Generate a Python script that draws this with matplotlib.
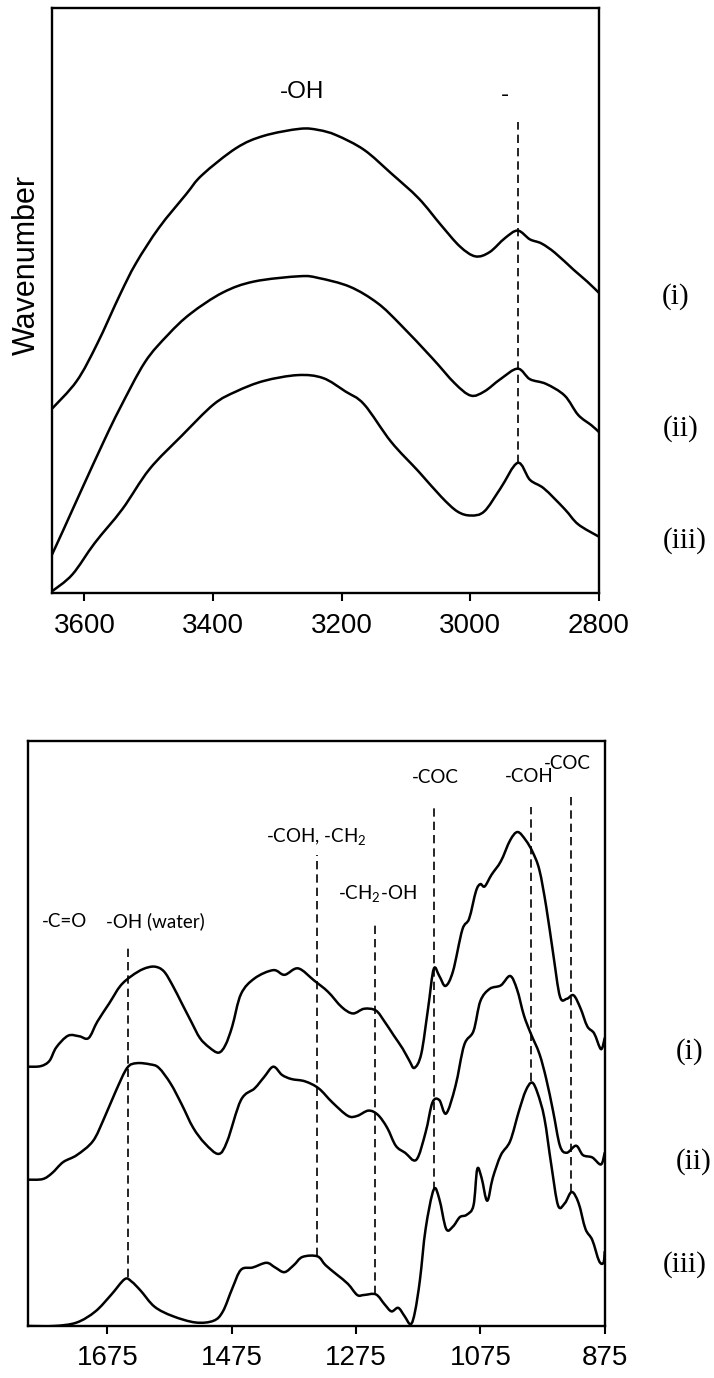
import matplotlib
matplotlib.use("Agg")
import matplotlib.pyplot as plt
from matplotlib.path import Path
from matplotlib.patches import PathPatch
import numpy as np

# ---------------- data: top panel (O-H / C-H region) ----------------
top_wn_i = [3651, 3612, 3580, 3545, 3520, 3484, 3442, 3417, 3364, 3321, 3265, 3236, 3208, 3165,
            3123, 3080, 3045, 3016, 2992, 2970, 2946, 2926, 2907, 2889, 2868, 2839, 2818, 2800]
top_i = [31.5, 36.3, 42.7, 51.0, 56.4, 62.5, 68.2, 71.5, 76.1, 78.2, 79.4, 79.2, 78.3, 75.8,
         71.8, 67.5, 62.9, 59.3, 57.6, 58.3, 60.7, 62.0, 60.5, 59.8, 58.2, 55.3, 53.3, 51.4]

top_wn_ii = [3651, 3633, 3605, 3569, 3545, 3506, 3470, 3435, 3385, 3336, 3265, 3236, 3187, 3144,
             3109, 3059, 3024, 2999, 2978, 2953, 2926, 2907, 2882, 2853, 2832, 2811, 2800]
top_ii = [6.5, 10.8, 17.6, 26.2, 31.6, 39.5, 44.2, 47.8, 51.4, 53.3, 54.2, 53.9, 52.4, 49.6,
          46.0, 40.2, 35.9, 33.8, 34.5, 36.6, 38.4, 36.6, 35.8, 33.8, 30.5, 28.7, 27.6]

top_wn_iii = [3651, 3619, 3584, 3541, 3499, 3449, 3399, 3364, 3321, 3268, 3229, 3194, 3165, 3123,
              3080, 3045, 3020, 2999, 2978, 2953, 2926, 2907, 2885, 2853, 2832, 2800]
top_iii = [0.3, 3.2, 8.6, 14.4, 21.2, 26.9, 32.3, 34.5, 36.3, 37.3, 36.8, 34.5, 32.3, 25.9,
           20.8, 16.5, 14.0, 13.3, 14.0, 17.9, 22.3, 19.4, 17.9, 14.4, 11.8, 9.7]

top_ticks = [3600, 3400, 3200, 3000, 2800]
top_labels = ["-OH", "-"]
top_label_wn = [3261, 2946]
top_label_y = [84.7, 84.2]
top_dash_wn = [2926]
top_dash_lo = [22.3]
top_dash_hi = [80.6]

# ---------------- data: bottom panel (fingerprint region) ----------------
bot_wn_i = [1802, 1782, 1768, 1757, 1738, 1720, 1705, 1691, 1672, 1654, 1636, 1617, 1599, 1584,
            1570, 1555, 1540, 1526, 1511, 1496, 1485, 1474, 1460, 1438, 1408, 1390, 1368, 1342,
            1320, 1298, 1280, 1262, 1243, 1229, 1214, 1200, 1189, 1181, 1170, 1159, 1150, 1141,
            1131, 1119, 1104, 1093, 1082, 1075, 1068, 1057, 1042, 1027, 1015, 1002, 991, 980,
            969, 958, 947, 936, 925, 914, 903, 892, 881, 875]
bot_i = [44.3, 44.4, 45.3, 47.6, 49.6, 49.5, 49.2, 52.0, 55.1, 58.1, 59.8, 61.0, 61.4, 60.6,
         58.2, 55.1, 52.0, 49.2, 47.6, 46.7, 48.0, 51.2, 56.7, 59.4, 60.8, 60.0, 61.1, 59.0,
         57.1, 54.5, 53.4, 54.2, 53.9, 52.0, 49.6, 47.4, 45.3, 44.1, 46.5, 54.3, 61.0, 59.8,
         58.1, 60.6, 67.7, 69.6, 74.3, 75.5, 75.1, 77.1, 79.4, 83.0, 84.4, 83.0, 81.0, 77.9,
         71.6, 63.7, 56.3, 55.9, 56.5, 54.3, 51.2, 50.0, 47.3, 49.2]

bot_wn_ii = [1802, 1779, 1764, 1746, 1724, 1698, 1680, 1661, 1643, 1628, 1606, 1592, 1573, 1555,
             1537, 1518, 1496, 1482, 1460, 1438, 1423, 1408, 1394, 1379, 1357, 1335, 1313, 1288,
             1273, 1255, 1240, 1225, 1211, 1196, 1178, 1163, 1152, 1141, 1130, 1115, 1101, 1086,
             1075, 1060, 1042, 1027, 1016, 1005, 994, 980, 969, 958, 947, 936, 921, 910, 895,
             881, 875]
bot_ii = [25.0, 25.1, 26.1, 28.0, 29.2, 31.6, 35.5, 40.2, 44.1, 44.9, 44.7, 44.1, 41.4, 37.8,
          33.9, 31.2, 29.4, 31.6, 38.6, 40.6, 42.5, 44.3, 42.9, 42.2, 41.8, 40.6, 38.2, 35.9,
          35.9, 36.8, 36.1, 33.9, 30.8, 29.6, 28.4, 33.1, 38.2, 38.6, 36.3, 41.0, 48.0, 50.4,
          55.5, 57.6, 58.2, 59.8, 57.5, 53.1, 50.0, 46.5, 42.2, 36.7, 30.8, 29.6, 30.8, 29.2,
          28.8, 27.6, 29.6]

bot_wn_iii = [1802, 1760, 1724, 1694, 1669, 1647, 1636, 1621, 1599, 1570, 1533, 1504, 1489, 1474,
              1460, 1441, 1419, 1405, 1390, 1375, 1361, 1337, 1324, 1306, 1288, 1273, 1262, 1243,
              1229, 1218, 1207, 1197, 1187, 1180, 1172, 1163, 1150, 1141, 1130, 1119, 1108, 1097,
              1086, 1080, 1073, 1064, 1055, 1042, 1027, 1013, 1002, 992, 983, 972, 961, 950, 939,
              928, 917, 906, 895, 884, 877, 875]
bot_iii = [0.0, 0.0, 0.6, 2.5, 5.3, 8.0, 7.6, 6.0, 3.3, 1.7, 0.6, 0.9, 2.5, 6.4,
           9.6, 10.0, 10.8, 10.0, 9.2, 10.4, 11.8, 11.9, 10.4, 8.8, 7.2, 5.3, 5.3, 5.4,
           3.7, 2.5, 3.1, 1.7, 0.3, 2.5, 8.0, 16.6, 23.3, 21.7, 16.6, 17.0, 18.6, 19.0,
           20.6, 26.8, 25.3, 21.4, 25.3, 29.2, 31.6, 36.7, 40.2, 41.6, 39.8, 35.5, 27.6, 20.6,
           21.0, 22.9, 21.0, 16.6, 14.7, 11.1, 10.8, 12.7]

bot_ticks = [1675, 1475, 1275, 1075, 875]
bot_dash_wn = [1641, 1337, 1245, 1150, 993, 929]
bot_dash_lo = [8.4, 12.0, 5.5, 23.3, 41.8, 22.9]
bot_dash_hi = [65.3, 80.4, 68.6, 88.5, 88.7, 91.1]
bot_labels = ["-C=O", "-OH (water)", r"-COH, -CH$_\mathregular{2}$", r"-CH$_\mathregular{2}$-OH",
              "-COC", "-COH", "-COC"]
bot_label_wn = [1743, 1598, 1338, 1240, 1147, 997, 935]
bot_label_y = [68.2, 68.2, 82.7, 72.9, 92.8, 92.9, 95.1]

sample_names = ["(i)", "(ii)", "(iii)"]

# ---------------- figure ----------------
plt.rcParams["mathtext.fontset"] = "custom"
plt.rcParams["mathtext.rm"] = "Lato"
plt.rcParams["mathtext.it"] = "Lato:italic"
plt.rcParams["mathtext.bf"] = "Lato:bold"

W, H = 714, 1378
fig = plt.figure(figsize=(W / 100, H / 100), dpi=100)


def px_axes(l, t, r, b):
    return fig.add_axes([l / W, 1 - b / H, (r - l) / W, (b - t) / H])


def smooth_line(ax, x, y, **kw):
    """Draw a 'smoothed line' (Excel-style Bezier) through the data points."""
    p = np.column_stack([x, y]).astype(float)
    ext = np.vstack([p[0], p, p[-1]])
    verts = [tuple(p[0])]
    codes = [Path.MOVETO]
    for i in range(len(p) - 1):
        p0, p1, p2, p3 = ext[i], ext[i + 1], ext[i + 2], ext[i + 3]
        c1 = p1 + (p2 - p0) / 6.0
        c2 = p2 - (p3 - p1) / 6.0
        verts += [tuple(c1), tuple(c2), tuple(p2)]
        codes += [Path.CURVE4] * 3
    patch = PathPatch(Path(verts, codes), fill=False, transform=ax.transData, **kw)
    ax.add_patch(patch)


ax1 = px_axes(51.7, 8.3, 598.7, 593.3)
ax2 = px_axes(28.3, 740.7, 604.7, 1326.0)

line_kw = dict(edgecolor="black", lw=1.8, joinstyle="round", capstyle="round")
dash_kw = dict(colors="black", linestyles=(0, (5, 3)), lw=1.2)

for wn, y in [(top_wn_i, top_i), (top_wn_ii, top_ii), (top_wn_iii, top_iii)]:
    smooth_line(ax1, wn, y, **line_kw)
ax1.vlines(top_dash_wn, top_dash_lo, top_dash_hi, **dash_kw)
for txt, x, y in zip(top_labels, top_label_wn, top_label_y):
    ax1.text(x, y, txt, ha="center", va="baseline", fontsize=17.5,
             family="Liberation Sans")
ax1.set_xlim(3651, 2800)
ax1.set_ylim(0, 100)
ax1.set_xticks(top_ticks)

for wn, y in [(bot_wn_i, bot_i), (bot_wn_ii, bot_ii), (bot_wn_iii, bot_iii)]:
    smooth_line(ax2, wn, y, **line_kw)
ax2.vlines(bot_dash_wn, bot_dash_lo, bot_dash_hi, **dash_kw)
for txt, x, y in zip(bot_labels, bot_label_wn, bot_label_y):
    ax2.text(x, y, txt, ha="center", va="baseline", fontsize=13.5, family="Lato")
ax2.set_xlim(1802, 875)
ax2.set_ylim(0, 100)
ax2.set_xticks(bot_ticks)

for ax, pad in [(ax1, 8), (ax2, 7.5)]:
    ax.set_yticks([])
    for s in ax.spines.values():
        s.set_linewidth(1.7)
        s.set_zorder(3)
    ax.tick_params(axis="x", direction="out", length=6, width=1.5, pad=pad,
                   labelsize=20)
    for lab in ax.get_xticklabels():
        lab.set_family("Liberation Sans")

fig.text(27 / W, 1 - 264.5 / H, "Wavenumber", rotation=90, ha="center", va="center",
         fontsize=22, family="Liberation Sans")

top_lab_pos = [(662, 297), (663, 429), (663, 541)]
bot_lab_pos = [(676, 1052), (676, 1162), (663, 1265)]
for name, (x, y) in zip(sample_names, top_lab_pos):
    fig.text(x / W, 1 - y / H, name, ha="left", va="center", fontsize=21,
             family="Liberation Serif")
for name, (x, y) in zip(sample_names, bot_lab_pos):
    fig.text(x / W, 1 - y / H, name, ha="left", va="center", fontsize=21,
             family="Liberation Serif")

fig.savefig("out.png", dpi=100)
